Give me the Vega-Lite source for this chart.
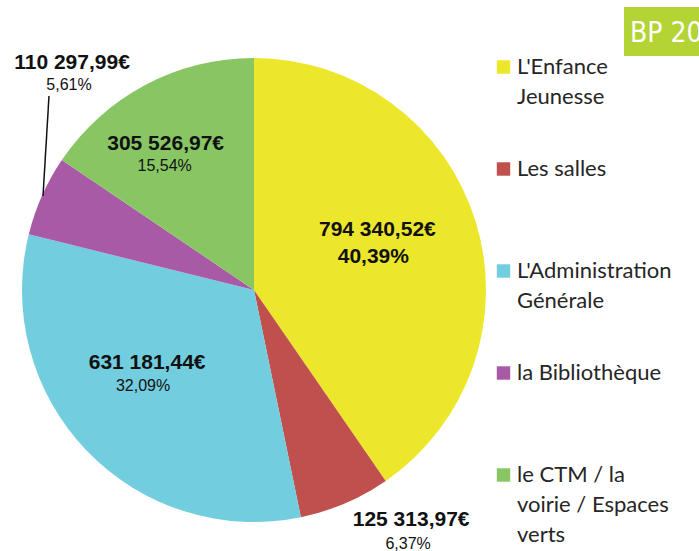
{
  "$schema": "https://vega.github.io/schema/vega-lite/v6.json",
  "width": 699,
  "height": 551,
  "autosize": {"type": "none"},
  "padding": 0,
  "background": "white",
  "config": {"view": {"stroke": null}},
  "data": {
    "values": [
      {"cat": "L'Enfance Jeunesse", "order": 1, "value": 794340.52, "amount": "794 340,52€", "pct": "40,39%", "legend": ["L'Enfance", "Jeunesse"]},
      {"cat": "Les salles", "order": 2, "value": 125313.97, "amount": "125 313,97€", "pct": "6,37%", "legend": ["Les salles"]},
      {"cat": "L'Administration Générale", "order": 3, "value": 631181.44, "amount": "631 181,44€", "pct": "32,09%", "legend": ["L'Administration", "Générale"]},
      {"cat": "la Bibliothèque", "order": 4, "value": 110297.99, "amount": "110 297,99€", "pct": "5,61%", "legend": ["la Bibliothèque"]},
      {"cat": "le CTM / la voirie / Espaces verts", "order": 5, "value": 305526.97, "amount": "305 526,97€", "pct": "15,54%", "legend": ["le CTM / la", "voirie / Espaces", "verts"]}
    ]
  },
  "layer": [
    {
      "mark": {"type": "arc", "outerRadius": 232},
      "encoding": {
        "theta": {"field": "value", "type": "quantitative", "stack": true},
        "order": {"field": "order", "type": "quantitative"},
        "color": {"field": "cat", "type": "nominal", "legend": null,
          "scale": {"domain": ["L'Enfance Jeunesse", "Les salles", "L'Administration Générale", "la Bibliothèque", "le CTM / la voirie / Espaces verts"],
                    "range": ["#ECE72B", "#C0504D", "#72CDDE", "#A95AA6", "#88C664"]}},
        "x": {"value": 254},
        "y": {"value": 290}
      }
    },
    {
      "mark": {"type": "text", "radius": 125, "dx": 4, "dy": -23, "font": "Liberation Sans", "fontSize": 21, "fontWeight": "bold", "align": "center", "baseline": "middle", "color": "#111111"},
      "encoding": {
        "theta": {"field": "value", "type": "quantitative", "stack": true},
        "order": {"field": "order", "type": "quantitative"},
        "detail": {"field": "cat", "type": "nominal"},
        "x": {"value": 254}, "y": {"value": 290},
        "text": {"condition": {"test": "datum.order === 1", "field": "amount", "type": "nominal"}, "value": ""}
      }
    },
    {
      "mark": {"type": "text", "radius": 125, "dx": 0, "dy": 4, "font": "Liberation Sans", "fontSize": 21, "fontWeight": "bold", "align": "center", "baseline": "middle", "color": "#111111"},
      "encoding": {
        "theta": {"field": "value", "type": "quantitative", "stack": true},
        "order": {"field": "order", "type": "quantitative"},
        "detail": {"field": "cat", "type": "nominal"},
        "x": {"value": 254}, "y": {"value": 290},
        "text": {"condition": {"test": "datum.order === 1", "field": "pct", "type": "nominal"}, "value": ""}
      }
    },
    {
      "mark": {"type": "text", "radius": 232, "dx": 66, "dy": 17, "font": "Liberation Sans", "fontSize": 21, "fontWeight": "bold", "align": "center", "baseline": "middle", "color": "#111111"},
      "encoding": {
        "theta": {"field": "value", "type": "quantitative", "stack": true},
        "order": {"field": "order", "type": "quantitative"},
        "detail": {"field": "cat", "type": "nominal"},
        "x": {"value": 254}, "y": {"value": 290},
        "text": {"condition": {"test": "datum.order === 2", "field": "amount", "type": "nominal"}, "value": ""}
      }
    },
    {
      "mark": {"type": "text", "radius": 232, "dx": 63, "dy": 41, "font": "Liberation Sans", "fontSize": 16, "align": "center", "baseline": "middle", "color": "#111111"},
      "encoding": {
        "theta": {"field": "value", "type": "quantitative", "stack": true},
        "order": {"field": "order", "type": "quantitative"},
        "detail": {"field": "cat", "type": "nominal"},
        "x": {"value": 254}, "y": {"value": 290},
        "text": {"condition": {"test": "datum.order === 2", "field": "pct", "type": "nominal"}, "value": ""}
      }
    },
    {
      "mark": {"type": "text", "radius": 140, "dx": -6, "dy": -24, "font": "Liberation Sans", "fontSize": 21, "fontWeight": "bold", "align": "center", "baseline": "middle", "color": "#111111"},
      "encoding": {
        "theta": {"field": "value", "type": "quantitative", "stack": true},
        "order": {"field": "order", "type": "quantitative"},
        "detail": {"field": "cat", "type": "nominal"},
        "x": {"value": 254}, "y": {"value": 290},
        "text": {"condition": {"test": "datum.order === 3", "field": "amount", "type": "nominal"}, "value": ""}
      }
    },
    {
      "mark": {"type": "text", "radius": 140, "dx": -10, "dy": -1, "font": "Liberation Sans", "fontSize": 16, "align": "center", "baseline": "middle", "color": "#111111"},
      "encoding": {
        "theta": {"field": "value", "type": "quantitative", "stack": true},
        "order": {"field": "order", "type": "quantitative"},
        "detail": {"field": "cat", "type": "nominal"},
        "x": {"value": 254}, "y": {"value": 290},
        "text": {"condition": {"test": "datum.order === 3", "field": "pct", "type": "nominal"}, "value": ""}
      }
    },
    {
      "mark": {"type": "text", "radius": 232, "dx": 30, "dy": -133, "font": "Liberation Sans", "fontSize": 21, "fontWeight": "bold", "align": "center", "baseline": "middle", "color": "#111111"},
      "encoding": {
        "theta": {"field": "value", "type": "quantitative", "stack": true},
        "order": {"field": "order", "type": "quantitative"},
        "detail": {"field": "cat", "type": "nominal"},
        "x": {"value": 254}, "y": {"value": 290},
        "text": {"condition": {"test": "datum.order === 4", "field": "amount", "type": "nominal"}, "value": ""}
      }
    },
    {
      "mark": {"type": "text", "radius": 232, "dx": 27, "dy": -111, "font": "Liberation Sans", "fontSize": 16, "align": "center", "baseline": "middle", "color": "#111111"},
      "encoding": {
        "theta": {"field": "value", "type": "quantitative", "stack": true},
        "order": {"field": "order", "type": "quantitative"},
        "detail": {"field": "cat", "type": "nominal"},
        "x": {"value": 254}, "y": {"value": 290},
        "text": {"condition": {"test": "datum.order === 4", "field": "pct", "type": "nominal"}, "value": ""}
      }
    },
    {
      "mark": {"type": "text", "radius": 165, "dx": -11, "dy": 0, "font": "Liberation Sans", "fontSize": 21, "fontWeight": "bold", "align": "center", "baseline": "middle", "color": "#111111"},
      "encoding": {
        "theta": {"field": "value", "type": "quantitative", "stack": true},
        "order": {"field": "order", "type": "quantitative"},
        "detail": {"field": "cat", "type": "nominal"},
        "x": {"value": 254}, "y": {"value": 290},
        "text": {"condition": {"test": "datum.order === 5", "field": "amount", "type": "nominal"}, "value": ""}
      }
    },
    {
      "mark": {"type": "text", "radius": 165, "dx": -12, "dy": 22, "font": "Liberation Sans", "fontSize": 16, "align": "center", "baseline": "middle", "color": "#111111"},
      "encoding": {
        "theta": {"field": "value", "type": "quantitative", "stack": true},
        "order": {"field": "order", "type": "quantitative"},
        "detail": {"field": "cat", "type": "nominal"},
        "x": {"value": 254}, "y": {"value": 290},
        "text": {"condition": {"test": "datum.order === 5", "field": "pct", "type": "nominal"}, "value": ""}
      }
    },
    {
      "data": {"values": [{"leader": "la Bibliothèque"}]},
      "mark": {"type": "rule", "color": "#111111", "strokeWidth": 1.5},
      "encoding": {"x": {"value": 49}, "y": {"value": 96}, "x2": {"value": 43}, "y2": {"value": 196}}
    },
    {
      "mark": {"type": "square", "size": 180, "opacity": 1},
      "encoding": {
        "x": {"value": 503.5},
        "y": {"field": "cat", "type": "nominal", "axis": null,
          "scale": {"type": "point", "padding": 0, "domain": ["L'Enfance Jeunesse", "Les salles", "L'Administration Générale", "la Bibliothèque", "le CTM / la voirie / Espaces verts"], "range": [67, 475]}},
        "color": {"field": "cat", "type": "nominal", "legend": null}
      }
    },
    {
      "mark": {"type": "text", "align": "left", "baseline": "alphabetic", "dy": 7, "font": "Lato", "fontSize": 22, "lineHeight": 30, "color": "#262626"},
      "encoding": {
        "x": {"value": 517},
        "y": {"field": "cat", "type": "nominal", "axis": null},
        "text": {"field": "legend", "type": "nominal"}
      }
    },
    {
      "data": {"values": [{"badge": "BP 2015"}]},
      "mark": {"type": "rect", "color": "#B4D335"},
      "encoding": {"x": {"value": 624}, "x2": {"value": 710}, "y": {"value": 7}, "y2": {"value": 56}}
    },
    {
      "data": {"values": [{"badge": "BP 2015"}]},
      "mark": {"type": "text", "align": "left", "baseline": "alphabetic", "font": "DejaVu Sans Condensed, Roboto, sans-serif", "fontSize": 28, "color": "white"},
      "encoding": {"x": {"value": 630}, "y": {"value": 42}, "text": {"field": "badge", "type": "nominal"}}
    }
  ]
}
